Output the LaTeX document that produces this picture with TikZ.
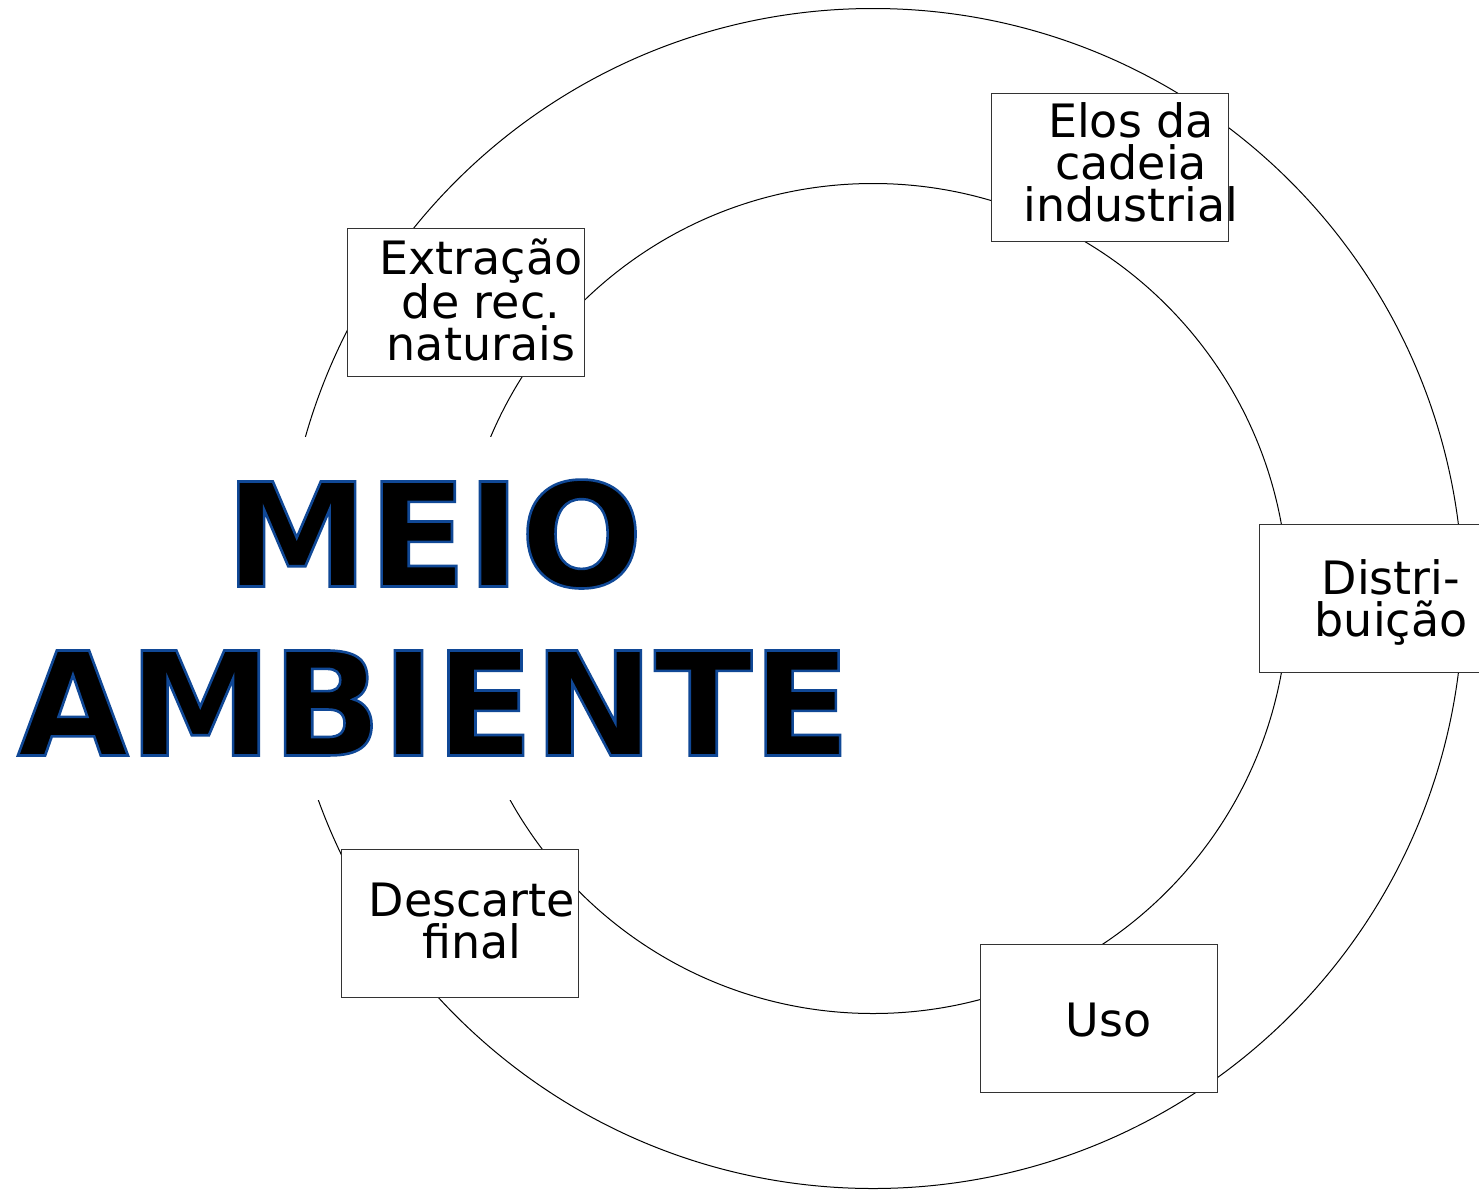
\documentclass[tikz,border=0pt]{standalone}
\usepackage{fontspec}
\setmainfont{DejaVu Sans}
\definecolor{outlineblue}{RGB}{16,72,150}
\newcommand{\bluestroke}[1]{\special{pdf:literal direct 2 Tr 2.6 w 0.063 0.282 0.588 RG}#1\special{pdf:literal direct 0 Tr}}
\tikzset{
  ring/.style={draw=black, line width=1pt},
  stagebox/.style={draw=black!80, line width=1pt, fill=white, minimum width=237pt, minimum height=148pt, inner sep=0pt},
  stagetext/.style={font=\fontsize{46}{42}\selectfont, align=center, inner sep=0pt, text=black},
  meiotext/.style={font=\fontsize{144}{169}\selectfont\bfseries, align=center, inner sep=0pt},
  meiobg/.style={fill=white, minimum width=840pt, minimum height=363pt, inner sep=0pt}
}
\begin{document}
\begin{tikzpicture}[x=1pt,y=-1pt]
\useasboundingbox (0,0) rectangle (1479,1189);
\clip (0,0) rectangle (1479,1189);
\coordinate (c) at (873,598.5);
\draw[ring] (c) circle[radius=590pt];
\draw[ring] (c) circle[radius=415pt];
% boxes
\node[stagebox] (ext) at (465.5,302) {};
\node[stagebox] (elos) at (1109.5,167) {};
\node[stagebox] (dist) at (1377.5,598) {};
\node[stagebox] (uso) at (1098.5,1018) {};
\node[stagebox] (desc) at (459.5,923) {};
% box texts
\node[stagetext] (extT) at (481,300) {Extração\\de rec.\\naturais};
\node[stagetext] (elosT) at (1131,162.5) {Elos da\\cadeia\\industrial};
\node[stagetext] (distT) at (1391,602) {Distri-\\buição};
\node[stagetext] (usoT) at (1108.5,1020) {Uso};
\node[stagetext] (descT) at (472,921.5) {Descarte\\final};
% central title
\node[meiobg] (meio) at (434,618.5) {};
\node[meiotext, text=black] (meiotxt) at (434,617.5) {\bluestroke{MEIO}\\\bluestroke{AMBIENTE}};
\end{tikzpicture}
\end{document}
